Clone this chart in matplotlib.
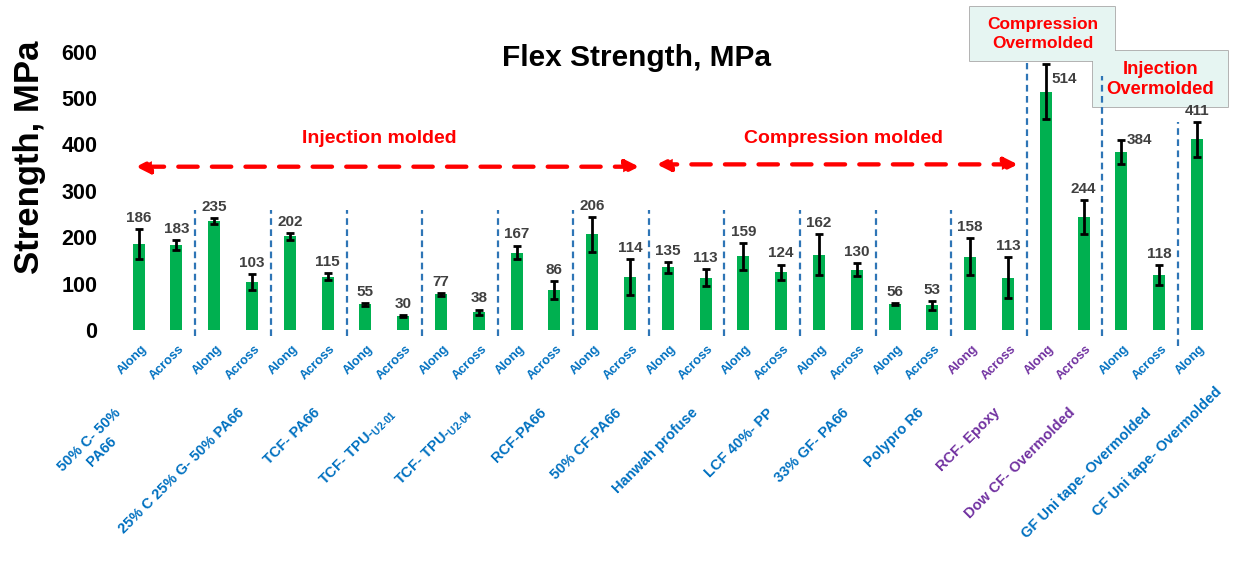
import numpy as np
import matplotlib
matplotlib.use("Agg")
import matplotlib.pyplot as plt
from matplotlib.patches import Rectangle

plt.rcParams['font.family'] = ['Liberation Sans', 'DejaVu Sans']
plt.rcParams['font.weight'] = 'bold'
plt.rcParams['mathtext.fontset'] = 'custom'
plt.rcParams['mathtext.rm'] = 'Liberation Sans'

# data
groups = ["50% C- 50%\nPA66", "25% C 25% G- 50% PA66", "TCF- PA66",
          "TCF- TPU-$_{\\text{U2-01}}$", "TCF- TPU-$_{\\text{U2-04}}$",
          "RCF-PA66", "50% CF-PA66", "Hanwah profuse", "LCF 40%- PP",
          "33% GF- PA66", "Polypro R6", "RCF- Epoxy", "Dow CF- Overmolded",
          "GF Uni tape- Overmolded", "CF Uni tape- Overmolded"]
orient = ["Along", "Across"] * 14 + ["Along"]
values = [186, 183, 235, 103, 202, 115, 55, 30, 77, 38, 167, 86, 206, 114,
          135, 113, 159, 124, 162, 130, 56, 53, 158, 113, 514, 244, 384, 118, 411]
errors = [32, 10, 6, 17, 7, 7, 4, 2, 3, 6, 15, 20, 38, 38,
          12, 18, 29, 17, 44, 14, 2, 10, 40, 45, 60, 37, 26, 22, 38]
purple_groups = ["RCF- Epoxy", "Dow CF- Overmolded"]

blue = '#0070C0'
purple = '#7030A0'
green = '#00B050'
sep_color = '#2E75B6'

fig = plt.figure(figsize=(12.33, 5.61), dpi=100)
ax = fig.add_axes([0.0971, 0.4118, 0.8890, 0.4961])

x = np.arange(len(values))
ax.bar(x, values, width=0.32, color=green, zorder=2)
ax.errorbar(x, values, yerr=errors, fmt='none', ecolor='black',
            elinewidth=2, capsize=3, capthick=2, zorder=3)

ax.set_xlim(-0.5, len(values) - 0.5)
ax.set_ylim(0, 600)
ax.set_yticks(range(0, 601, 100))
ax.set_xticks([])
ax.tick_params(axis='y', length=0, pad=16, labelsize=15.5)
for lbl in ax.get_yticklabels():
    lbl.set_fontweight('bold')
for s in ax.spines.values():
    s.set_visible(False)

# value labels
for i, (v, e) in enumerate(zip(values, errors)):
    if v in (514, 384):
        # these two sit to the right of the error bar
        ax.annotate(str(v), (i, v + 26), xytext=(4, 0), textcoords='offset points',
                    ha='left', va='center', fontsize=11, color='#404040', zorder=6)
    else:
        ax.annotate(str(v), (i, v + e), xytext=(0, 8), textcoords='offset points',
                    ha='center', va='center', fontsize=11, color='#404040', zorder=6)

# orientation labels and group labels
for i, o in enumerate(orient):
    g = groups[i // 2]
    c = purple if g in purple_groups else blue
    ax.text(i + 0.05, -28, o, rotation=45, rotation_mode='anchor', ha='right',
            va='top', fontsize=9.3, color=c, clip_on=False)

label_shift = {0: (-1.25, 0), 14: (0.37, 45)}
for k, g in enumerate(groups):
    c = purple if g in purple_groups else blue
    xc = 2 * k + 0.5 if 2 * k + 1 < len(values) else 2 * k
    dx, dy = label_shift.get(k, (0, 0))
    ax.text(xc + 0.1 + dx, -163 + dy, g, rotation=45, rotation_mode='anchor',
            ha='right', va='top', fontsize=10.5, color=c,
            multialignment='center', clip_on=False)

# group separators
sep_x = np.arange(1.5, len(values) - 1, 2)
for sx in sep_x:
    top = 258
    bot = -12
    if sx == 23.5:
        top = 575
    elif sx == 25.5:
        top = 548
    elif sx == 27.5:
        top = 448
        bot = -35
    ax.plot([sx, sx], [bot, top], color=sep_color, lw=1.6,
            linestyle=(0, (3, 2)), clip_on=False, zorder=4)

# process annotations
arrow_kw = dict(arrowstyle='<|-|>', color='red', lw=3.1, linestyle=(0, (4.5, 3.3)),
                mutation_scale=20, shrinkA=0, shrinkB=0)
ax.annotate('', xy=(-0.07, 352), xytext=(13.24, 352), arrowprops=arrow_kw,
            annotation_clip=False)
ax.annotate('', xy=(13.71, 357), xytext=(23.26, 357), arrowprops=arrow_kw,
            annotation_clip=False)
ax.text(6.36, 413, 'Injection molded', color='red', fontsize=14,
        ha='center', va='center')
ax.text(18.65, 413, 'Compression molded', color='red', fontsize=14,
        ha='center', va='center')

# overmolded boxes: outlines first, then fills so the two read as one shape
boxes = [((22.0, 580), 3.83, 116), ((25.25, 481), 3.56, 120)]
for xy, w, h in boxes:
    ax.add_patch(Rectangle(xy, w, h, facecolor='#E6F5F2', edgecolor='#A6A6A6',
                           lw=1.2, clip_on=False, zorder=3))
for xy, w, h in boxes:
    ax.add_patch(Rectangle(xy, w, h, facecolor='#E6F5F2', edgecolor='none',
                           clip_on=False, zorder=3.5))
ax.text(23.92, 638, 'Compression\nOvermolded', color='red', fontsize=12.5,
        ha='center', va='center', linespacing=1.3, zorder=5, clip_on=False)
ax.text(27.03, 540, 'Injection\nOvermolded', color='red', fontsize=13.3,
        ha='center', va='center', linespacing=1.3, zorder=5, clip_on=False)

fig.text(636 / 1233, 1 - 58 / 561, 'Flex Strength, MPa', fontsize=21.5,
         ha='center', va='center')
fig.text(30 / 1233, 1 - 157 / 561, 'Strength, MPa', fontsize=25, rotation=90,
         ha='center', va='center')

fig.savefig('out.png', dpi=100)
